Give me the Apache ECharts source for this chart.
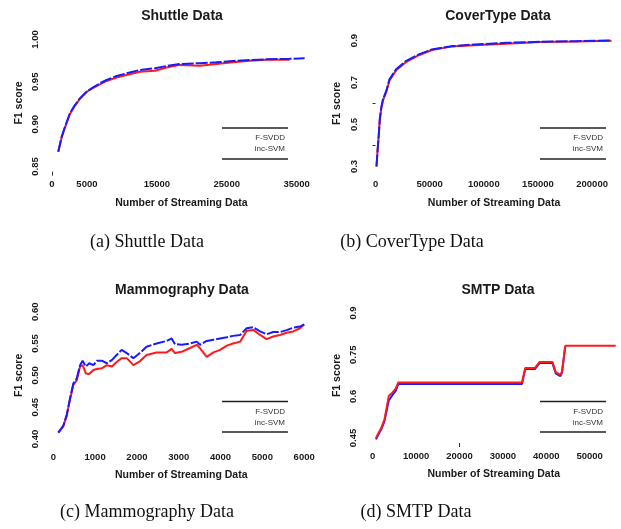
<!DOCTYPE html>
<html>
<head>
<meta charset="utf-8">
<script src="https://cdn.jsdelivr.net/npm/echarts@6/dist/echarts.min.js"></script>
<style>
html,body{margin:0;padding:0;background:#fff;}
#main{width:621px;height:529px;}
</style>
</head>
<body>
<div id="main"></div>
<script>
// (a) Shuttle
var shuttleX = [900,1380,1860,2570,3290,4000,4950,5900,6860,7810,9240,10670,12570,14760,16380,18290,21140,23520,25900,28290,30670,33050,34000,36140];
var shuttleBlue = [0.8675,0.885,0.897,0.913,0.9226,0.9305,0.9384,0.9435,0.9483,0.9522,0.9569,0.960,0.964,0.966,0.9687,0.971,0.972,0.973,0.9746,0.9758,0.9766,0.977,0.9772,0.9778];
var shuttleRed = [0.8675,0.884,0.896,0.912,0.922,0.930,0.938,0.943,0.947,0.951,0.955,0.958,0.962,0.963,0.967,0.970,0.969,0.971,0.973,0.975,0.976,0.976,0.976,null];
// (b) CoverType
var coverX = [900,1800,3000,3900,5400,6900,9900,12900,19000,28000,40000,52000,70000,91000,121000,151500,185000,218000];
var coverBlue = [0.30,0.37,0.45,0.525,0.583,0.62,0.66,0.715,0.763,0.802,0.834,0.857,0.873,0.881,0.889,0.894,0.897,0.900];
var coverRed = [0.30,0.37,0.45,0.52,0.58,0.615,0.655,0.71,0.758,0.797,0.83,0.855,0.871,0.877,0.885,0.893,0.896,0.899];
// (c) Mammography
var mammoX = [120,240,320,400,480,560,640,700,780,860,960,1040,1160,1280,1400,1515,1635,1755,1915,2070,2230,2470,2710,2830,2910,3070,3270,3430,3510,3670,3830,3990,4150,4300,4470,4625,4785,4945,5100,5260,5420,5580,5740,5900,6000];
var mammoBlue = [0.410,0.421,0.438,0.464,0.4875,0.495,0.516,0.523,0.514,0.519,0.516,0.523,0.523,0.519,0.524,0.532,0.540,0.535,0.527,0.535,0.545,0.550,0.554,0.558,0.549,0.548,0.550,0.553,0.548,0.554,0.556,0.558,0.560,0.562,0.5635,0.574,0.5755,0.569,0.5645,0.568,0.568,0.571,0.575,0.5766,0.580];
var mammoRed = [0.410,0.420,0.436,0.462,0.485,0.492,0.514,0.516,0.503,0.502,0.5085,0.510,0.511,0.516,0.514,0.521,0.527,0.527,0.516,0.522,0.532,0.536,0.536,0.5415,0.535,0.537,0.543,0.548,0.5425,0.529,0.536,0.540,0.5467,0.550,0.553,0.570,0.5714,0.5635,0.557,0.561,0.5635,0.567,0.569,0.574,0.580];
// (d) SMTP
var smtpX = [740,2000,2730,3700,4570,5300,5900,34400,35150,37370,38470,41420,42160,43260,43630,44370,56000];
var smtpBlue = [0.445,0.482,0.512,0.585,0.605,0.62,0.644,0.644,0.698,0.698,0.72,0.72,0.683,0.673,0.686,0.778,null];
var smtpRed = [0.45,0.487,0.518,0.601,0.614,0.628,0.650,0.650,0.702,0.702,0.724,0.724,0.687,0.677,0.690,0.782,0.782];

// tick labels
var shuttleXTicks = [0,5000,15000,25000,35000];
var shuttleYTicks = [0.85,0.90,0.95,1.00];
var coverXTicks = [0,50000,100000,150000,200000];
var coverYTicks = [0.3,0.5,0.7,0.9];
var mammoXTicks = [0,1000,2000,3000,4000,5000,6000];
var mammoYTicks = [0.40,0.45,0.50,0.55,0.60];
var smtpXTicks = [0,10000,20000,30000,40000,50000];
var smtpYTicks = [0.45,0.6,0.75,0.9];

var titles = ['Shuttle Data','CoverType Data','Mammography Data','SMTP Data'];
var captions = ['(a) Shuttle Data','(b) CoverType Data','(c) Mammography Data','(d) SMTP Data'];
var legendNames = ['F-SVDD','inc-SVM'];

var txt = '#1a1a1a';
var sans = 'Liberation Sans, Arial, sans-serif';
var serif = '18px Liberation Serif, Times New Roman, serif';

function pairs(xs, ys) {
    var out = [];
    for (var i = 0; i < xs.length; i++) {
        out.push([xs[i], ys[i]]);
    }
    return out;
}

function xAxisOf(idx, min, max, ticks, extraTicks) {
    return {
        type: 'value', gridIndex: idx, min: min, max: max,
        name: 'Number of Streaming Data', nameLocation: 'middle', nameGap: 26,
        nameTextStyle: {fontFamily: sans, fontSize: 10.5, fontWeight: 'bold', color: txt},
        axisLine: {show: false},
        splitLine: {show: false},
        axisTick: extraTicks ? {show: true, customValues: extraTicks, length: 4, lineStyle: {color: '#333'}} : {show: false},
        axisLabel: {
            customValues: ticks, margin: 8, fontFamily: sans, fontSize: 9.5, fontWeight: 'bold', color: txt,
            formatter: function (v) { return String(v); }
        }
    };
}

function yAxisOf(idx, min, max, ticks, digits, extraTicks) {
    return {
        type: 'value', gridIndex: idx, min: min, max: max,
        name: 'F1 score', nameLocation: 'middle', nameGap: 24,
        nameTextStyle: {fontFamily: sans, fontSize: 10.5, fontWeight: 'bold', color: txt},
        axisLine: {show: false},
        splitLine: {show: false},
        axisTick: extraTicks ? {show: true, customValues: extraTicks, length: 3, lineStyle: {color: '#333'}} : {show: false},
        axisLabel: {
            customValues: ticks, rotate: 90, margin: 8,
            fontFamily: sans, fontSize: 9.5, fontWeight: 'bold', color: txt,
            formatter: function (v) {
                if (digits === 0) return String(Math.round(v * 100) / 100);
                return v.toFixed(digits);
            }
        }
    };
}

function lineOf(name, idx, xs, ys, color, dashed, z) {
    return {
        name: name, type: 'line', xAxisIndex: idx, yAxisIndex: idx,
        data: pairs(xs, ys), showSymbol: false, symbol: 'none', z: z,
        connectNulls: false, animation: false,
        lineStyle: {color: color, width: 2, type: dashed ? [12, 2] : 'solid'}
    };
}

var red = '#ff1a1a';
var blue = '#1a1aff';

// legend boxes (no line samples, like the reference)
function legendBox(x0, x1, yTop, yBot) {
    return [
        {type: 'line', shape: {x1: x0, y1: yTop, x2: x1, y2: yTop}, style: {stroke: '#222', lineWidth: 1.3}},
        {type: 'line', shape: {x1: x0, y1: yBot, x2: x1, y2: yBot}, style: {stroke: '#222', lineWidth: 1.3}},
        {type: 'text', x: x1 - 3, y: yTop + 10, style: {text: legendNames[0], align: 'right', verticalAlign: 'middle', font: '8px ' + sans, fill: '#333'}},
        {type: 'text', x: x1 - 3, y: yTop + 21, style: {text: legendNames[1], align: 'right', verticalAlign: 'middle', font: '8px ' + sans, fill: '#333'}}
    ];
}

var graphics = [].concat(
    legendBox(222, 288, 128, 159),
    legendBox(540, 606, 128, 159),
    legendBox(222, 288, 401.5, 432),
    legendBox(540, 606, 401.5, 432),
    [
        {type: 'text', x: 147, y: 242, style: {text: captions[0], align: 'center', verticalAlign: 'middle', font: serif, fill: '#111'}},
        {type: 'text', x: 412, y: 242, style: {text: captions[1], align: 'center', verticalAlign: 'middle', font: serif, fill: '#111'}},
        {type: 'text', x: 147, y: 512, style: {text: captions[2], align: 'center', verticalAlign: 'middle', font: serif, fill: '#111'}},
        {type: 'text', x: 416, y: 512, style: {text: captions[3], align: 'center', verticalAlign: 'middle', font: serif, fill: '#111'}}
    ]
);

function titleOf(text, cx, top) {
    return {
        text: text, left: cx, top: top, textAlign: 'center', padding: 0,
        textStyle: {fontFamily: sans, fontSize: 14, fontWeight: 'bold', color: txt}
    };
}

var chart = echarts.init(document.getElementById('main'), null, {renderer: 'canvas'});
var option = {
    backgroundColor: '#fff',
    animation: false,
    title: [
        titleOf(titles[0], 182, 9),
        titleOf(titles[1], 498, 9),
        titleOf(titles[2], 182, 283),
        titleOf(titles[3], 498, 283)
    ],
    grid: [
        {left: 48.4, top: 34.4, width: 266.1, height: 137.2},
        {left: 367.1, top: 35.5, width: 259.5, height: 136},
        {left: 48.5, top: 306.6, width: 265.5, height: 137.5},
        {left: 366.5, top: 308, width: 265.1, height: 135}
    ],
    xAxis: [
        xAxisOf(0, -510, 37550, shuttleXTicks, [0]),
        xAxisOf(1, -7784, 226684, coverXTicks, null),
        xAxisOf(2, -115, 6235, mammoXTicks, null),
        xAxisOf(3, -1430, 57220, smtpXTicks, [20000])
    ],
    yAxis: [
        yAxisOf(0, 0.844, 1.006, shuttleYTicks, 2, null),
        yAxisOf(1, 0.276, 0.924, coverYTicks, 1, [0.4, 0.6]),
        yAxisOf(2, 0.392, 0.608, mammoYTicks, 2, null),
        yAxisOf(3, 0.432, 0.918, smtpYTicks, 0, null)
    ],
    series: [
        lineOf(legendNames[1], 0, shuttleX, shuttleRed, red, false, 2),
        lineOf(legendNames[0], 0, shuttleX, shuttleBlue, blue, true, 3),
        lineOf(legendNames[1], 1, coverX, coverRed, red, false, 2),
        lineOf(legendNames[0], 1, coverX, coverBlue, blue, true, 3),
        lineOf(legendNames[1], 2, mammoX, mammoRed, red, false, 2),
        lineOf(legendNames[0], 2, mammoX, mammoBlue, blue, true, 3),
        lineOf(legendNames[0], 3, smtpX, smtpBlue, blue, false, 2),
        lineOf(legendNames[1], 3, smtpX, smtpRed, red, false, 3)
    ],
    graphic: graphics
};
chart.setOption(option);
</script>
</body>
</html>
